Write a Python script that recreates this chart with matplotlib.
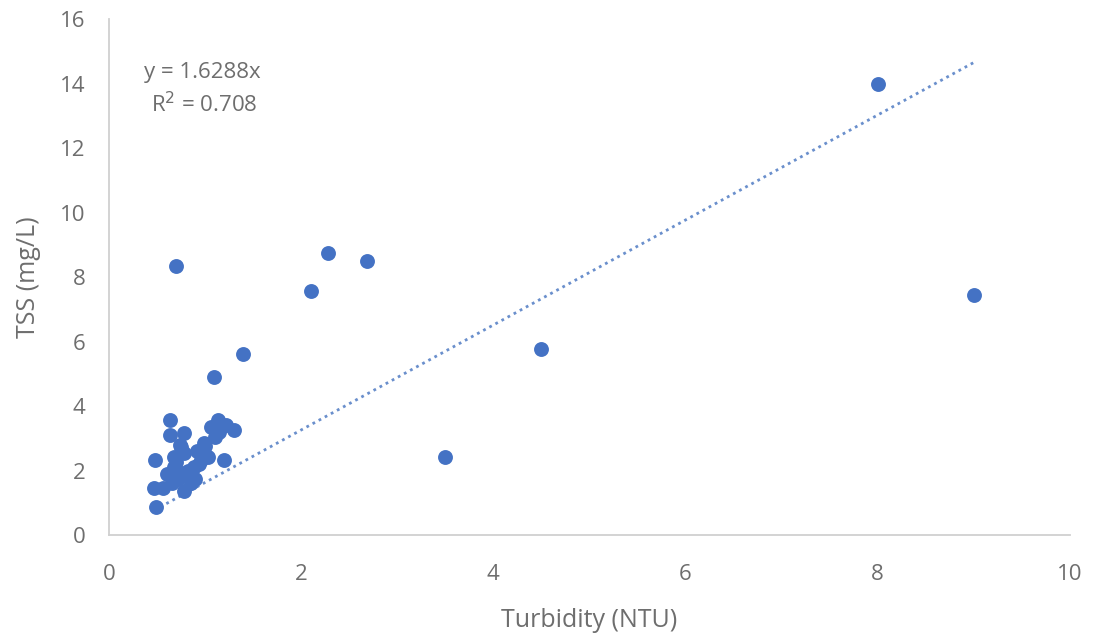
import numpy as np
import matplotlib
matplotlib.use("Agg")
import matplotlib.pyplot as plt

# ===== data =====
turbidity = [8.0, 9.0, 2.28, 2.68, 2.1, 0.70, 1.39, 4.5, 3.5, 1.09,
             0.49, 0.47, 0.56, 0.48, 0.63, 0.63, 0.78, 0.68, 0.68, 0.75,
             0.66, 0.85, 0.78, 0.88, 1.03, 0.96, 0.78, 0.75, 1.20, 1.13,
             1.30, 1.22, 1.06, 0.99, 0.94, 0.72, 0.82, 0.90, 1.00, 0.70,
             1.10, 1.15, 0.60, 0.92, 0.74]
tss = [14.0, 7.44, 8.74, 8.5, 7.57, 8.34, 5.61, 5.77, 2.42, 4.9,
       0.87, 1.46, 1.46, 2.33, 3.57, 3.1, 3.16, 2.42, 2.1, 1.92,
       1.6, 1.6, 1.35, 2.1, 2.42, 2.33, 2.53, 2.73, 2.33, 3.57,
       3.26, 3.41, 3.35, 2.85, 2.2, 1.75, 2.0, 1.75, 2.75, 2.25,
       3.05, 3.2, 1.9, 2.6, 2.8]

slope = 1.6288
r2 = 0.708

BLUE = "#4472C4"
GREY = "#6E6E6E"

plt.rcParams["font.family"] = ["Open Sans", "DejaVu Sans"]

fig = plt.figure(figsize=(10.94, 6.42), dpi=100)
ax = fig.add_axes([0.0996, 0.1667, 0.8784, 0.8033])

ax.scatter(turbidity, tss, s=115, color=BLUE, zorder=3, linewidths=0)

# trendline through origin
xs = np.array([min(turbidity), max(turbidity)])
ax.plot(xs, slope * xs, linestyle=(0, (1, 1.5)), color="#6A8FCC", linewidth=2.0, zorder=2)

ax.text(0.36, 14.35, f"y = {slope}x", fontsize=16, color=GREY, ha="left", va="center")
ax.text(0.44, 13.35, f"R$^2$ = {r2}", fontsize=16, color=GREY, ha="left", va="center")

ax.set_xlim(0, 10)
ax.set_ylim(0, 16)
ax.set_xticks(range(0, 11, 2))
ax.set_yticks(range(0, 17, 2))
ax.tick_params(axis="x", length=0, labelsize=16, colors=GREY, pad=21)
ax.tick_params(axis="y", length=0, labelsize=16, colors=GREY, pad=17)

for s in ["top", "right"]:
    ax.spines[s].set_visible(False)
for s in ["left", "bottom"]:
    ax.spines[s].set_color("#D0D0D0")
    ax.spines[s].set_linewidth(1.3)

ax.set_xlabel("Turbidity (NTU)", fontsize=18, color=GREY, va="center")
ax.set_ylabel("TSS (mg/L)", fontsize=18, color=GREY, va="center")
ax.xaxis.set_label_coords(0.5, -0.165)
ax.yaxis.set_label_coords(-0.084, 0.5)

fig.savefig("out.png", dpi=100)
